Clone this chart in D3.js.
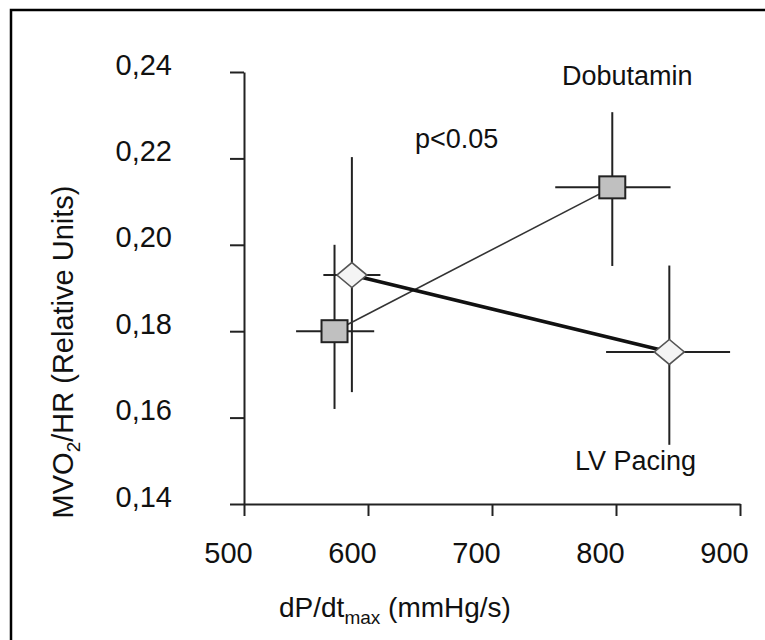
<!DOCTYPE html>
<html>
<head>
<meta charset="utf-8">
<script src="https://cdn.jsdelivr.net/npm/d3@7"></script>
<style>
  html, body { margin: 0; padding: 0; background: #fff; }
  svg text { font-family: "Liberation Sans", Arial, sans-serif; fill: #111; }
</style>
</head>
<body>
<svg id="chart" width="765" height="640"></svg>
<script>
// ---- Data ----
const xTicks = [500, 600, 700, 800, 900];
const yTicks = [0.14, 0.16, 0.18, 0.20, 0.22, 0.24];

const seriesNames = ["Dobutamin", "LV Pacing"];

// Dobutamin (grey squares)
const dobX     = [573, 797];
const dobY     = [0.180, 0.2133];
const dobXLow  = [542, 751];
const dobXHigh = [605, 844];
const dobYLow  = [0.162, 0.1951];
const dobYHigh = [0.200, 0.2307];

// LV Pacing (white diamonds)
const lvX     = [587, 843];
const lvY     = [0.193, 0.1752];
const lvXLow  = [564, 792];
const lvXHigh = [610, 892];
const lvYLow  = [0.1659, 0.1537];
const lvYHigh = [0.2203, 0.1952];

const pLabel = "p<0.05";

// ---- Layout ----
const svg = d3.select("#chart");
svg.append("rect").attr("x", 0).attr("y", 0).attr("width", 765).attr("height", 640).attr("fill", "#fff");
// outer frame (runs off the right/bottom edge)
svg.append("rect").attr("x", 11).attr("y", 10).attr("width", 800).attr("height", 700)
  .attr("fill", "none").attr("stroke", "#000").attr("stroke-width", 2.5);

const x = d3.scaleLinear().domain([500, 900]).range([244, 740]);
const y = d3.scaleLinear().domain([0.14, 0.24]).range([504, 72]);

const fmtY = d => d3.format(".2f")(d).replace(".", ",");

// X axis
const gx = svg.append("g").attr("transform", `translate(0,${y(0.14)})`)
  .call(d3.axisBottom(x).tickValues(xTicks).tickSize(12).tickSizeOuter(0).tickFormat(d3.format("d")));
gx.select(".domain").attr("stroke", "#222").attr("stroke-width", 2);
gx.selectAll(".tick line").attr("stroke", "#222").attr("stroke-width", 2);
gx.selectAll(".tick text").attr("y", 59).attr("dy", 0).attr("x", -16)
  .style("font-size", "29px").attr("fill", "#111");

// Y axis
const gy = svg.append("g").attr("transform", `translate(${x(500)},0)`)
  .call(d3.axisLeft(y).tickValues(yTicks).tickSize(14).tickSizeOuter(0).tickPadding(58).tickFormat(fmtY));
gy.select(".domain").attr("stroke", "#222").attr("stroke-width", 2);
gy.selectAll(".tick line").attr("stroke", "#222").attr("stroke-width", 2);
gy.selectAll(".tick text").attr("dy", 0).attr("y", 2)
  .style("font-size", "29px").attr("fill", "#111");

// Axis titles
const xt = svg.append("text").attr("x", 279).attr("y", 617).style("font-size", "28px");
xt.append("tspan").text("dP/dt");
xt.append("tspan").text("max").style("font-size", "19px").attr("dy", 7);
xt.append("tspan").text(" (mmHg/s)").attr("dy", -7);

const yt = svg.append("text").attr("transform", "translate(73,352) rotate(-90)")
  .attr("text-anchor", "middle").style("font-size", "29px");
yt.append("tspan").text("MVO");
yt.append("tspan").text("2").style("font-size", "19px").attr("dy", 7);
yt.append("tspan").text("/HR (Relative Units)").attr("dy", -7);

// Build series
function rows(X, Y, XL, XH, YL, YH) {
  return X.map((v, i) => ({ x: v, y: Y[i], xl: XL[i], xh: XH[i], yl: YL[i], yh: YH[i] }));
}
const dob = rows(dobX, dobY, dobXLow, dobXHigh, dobYLow, dobYHigh);
const lv = rows(lvX, lvY, lvXLow, lvXHigh, lvYLow, lvYHigh);

// Error bars
function errorBars(data) {
  const g = svg.append("g").attr("stroke", "#222").attr("stroke-width", 2);
  g.selectAll(".v").data(data).join("line").attr("class", "v")
    .attr("x1", d => x(d.x)).attr("x2", d => x(d.x))
    .attr("y1", d => y(d.yl)).attr("y2", d => y(d.yh));
  g.selectAll(".h").data(data).join("line").attr("class", "h")
    .attr("x1", d => x(d.xl)).attr("x2", d => x(d.xh))
    .attr("y1", d => y(d.y)).attr("y2", d => y(d.y));
}
errorBars(dob);
errorBars(lv);

// Connecting lines
const line = d3.line().x(d => x(d.x)).y(d => y(d.y));
svg.append("path").datum(dob).attr("d", line).attr("fill", "none")
  .attr("stroke", "#333").attr("stroke-width", 1.6);
svg.append("path").datum(lv).attr("d", line).attr("fill", "none")
  .attr("stroke", "#111").attr("stroke-width", 3.5);

// Markers
svg.append("g").selectAll("rect").data(dob).join("rect")
  .attr("x", d => x(d.x) - 13).attr("y", d => y(d.y) - 11)
  .attr("width", 26).attr("height", 22)
  .attr("fill", "#c0c0c0").attr("stroke", "#222").attr("stroke-width", 2);

svg.append("g").selectAll("path").data(lv).join("path")
  .attr("d", d => {
    const cx = x(d.x), cy = y(d.y);
    return `M${cx - 15},${cy} L${cx},${cy - 12.5} L${cx + 15},${cy} L${cx},${cy + 12.5} Z`;
  })
  .attr("fill", "#f4f4f4").attr("stroke", "#555").attr("stroke-width", 1.6);

// Annotations
svg.append("text").attr("x", 562).attr("y", 85).style("font-size", "27px").text(seriesNames[0]);
svg.append("text").attr("x", 415).attr("y", 148).style("font-size", "27px").text(pLabel);
svg.append("text").attr("x", 575).attr("y", 470).style("font-size", "27px").text(seriesNames[1]);
</script>
</body>
</html>
